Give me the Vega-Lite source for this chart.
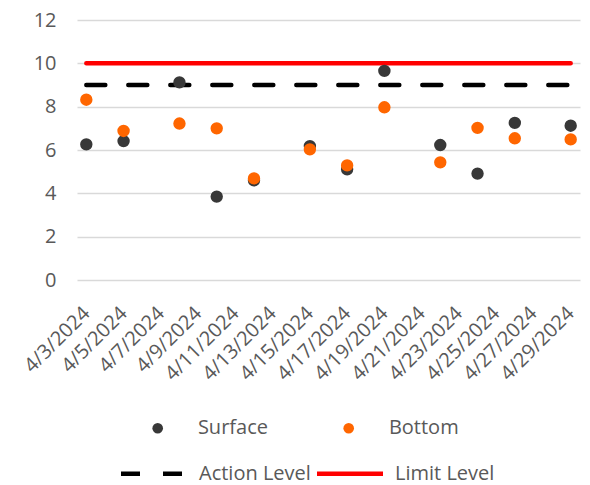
{
  "$schema": "https://vega.github.io/schema/vega-lite/v6.json",
  "width": 503,
  "height": 260,
  "autosize": {"type": "none"},
  "padding": {"left": 77, "top": 20, "right": 10, "bottom": 205},
  "background": "white",
  "config": {
    "view": {"stroke": null},
    "font": "Open Sans",
    "axis": {"labelFont": "Open Sans", "labelFontSize": 20, "labelColor": "#595959", "title": null, "ticks": false, "domain": false},
    "legend": {"labelFont": "Open Sans", "labelFontSize": 20, "labelColor": "#595959", "padding": 0, "title": null}
  },
  "datasets": {
    "points": [
      {"date": "2024-04-03", "value": 6.26, "series": "Surface"},
      {"date": "2024-04-05", "value": 6.41, "series": "Surface"},
      {"date": "2024-04-08", "value": 9.12, "series": "Surface"},
      {"date": "2024-04-10", "value": 3.85, "series": "Surface"},
      {"date": "2024-04-12", "value": 4.6, "series": "Surface"},
      {"date": "2024-04-15", "value": 6.18, "series": "Surface"},
      {"date": "2024-04-17", "value": 5.11, "series": "Surface"},
      {"date": "2024-04-19", "value": 9.65, "series": "Surface"},
      {"date": "2024-04-22", "value": 6.23, "series": "Surface"},
      {"date": "2024-04-24", "value": 4.91, "series": "Surface"},
      {"date": "2024-04-26", "value": 7.25, "series": "Surface"},
      {"date": "2024-04-29", "value": 7.12, "series": "Surface"},
      {"date": "2024-04-03", "value": 8.32, "series": "Bottom"},
      {"date": "2024-04-05", "value": 6.88, "series": "Bottom"},
      {"date": "2024-04-08", "value": 7.22, "series": "Bottom"},
      {"date": "2024-04-10", "value": 7.0, "series": "Bottom"},
      {"date": "2024-04-12", "value": 4.69, "series": "Bottom"},
      {"date": "2024-04-15", "value": 6.03, "series": "Bottom"},
      {"date": "2024-04-17", "value": 5.29, "series": "Bottom"},
      {"date": "2024-04-19", "value": 7.97, "series": "Bottom"},
      {"date": "2024-04-22", "value": 5.43, "series": "Bottom"},
      {"date": "2024-04-24", "value": 7.02, "series": "Bottom"},
      {"date": "2024-04-26", "value": 6.54, "series": "Bottom"},
      {"date": "2024-04-29", "value": 6.49, "series": "Bottom"}
    ],
    "levels": [
      {"date": "2024-04-03", "value": 9, "level": "Action Level"},
      {"date": "2024-04-29", "value": 9, "level": "Action Level"},
      {"date": "2024-04-03", "value": 10, "level": "Limit Level"},
      {"date": "2024-04-29", "value": 10, "level": "Limit Level"}
    ]
  },
  "encoding": {
    "x": {
      "field": "date",
      "type": "temporal",
      "scale": {
        "type": "utc",
        "domain": [
          {"year": 2024, "month": 4, "date": 2, "hours": 12, "utc": true},
          {"year": 2024, "month": 4, "date": 29, "hours": 12, "utc": true}
        ]
      },
      "axis": {
        "labelExpr": "utcFormat(datum.value, '%-m/%-d/%Y')",
        "tickCount": {"interval": "day", "step": 2},
        "labelAngle": -45,
        "labelAlign": "right",
        "labelBaseline": "middle",
        "labelPadding": 30,
        "labelOverlap": false,
        "labelBound": false,
        "labelFlush": false,
        "grid": false
      }
    },
    "y": {
      "field": "value",
      "type": "quantitative",
      "scale": {"domain": [0, 12], "nice": false, "zero": true},
      "axis": {
        "values": [0, 2, 4, 6, 8, 10, 12],
        "grid": true,
        "gridColor": "#d9d9d9",
        "gridWidth": 1.5,
        "labelPadding": 21
      }
    }
  },
  "layer": [
    {
      "data": {"name": "levels"},
      "mark": {"type": "line", "strokeWidth": 4.5, "strokeCap": "round"},
      "encoding": {
        "stroke": {
          "field": "level",
          "type": "nominal",
          "scale": {"domain": ["Action Level", "Limit Level"], "range": ["#000000", "#FF0000"]},
          "legend": {
            "orient": "none",
            "direction": "horizontal",
            "legendX": 41.5,
            "legendY": 418,
            "symbolType": "stroke",
            "symbolSize": 4356,
            "symbolStrokeWidth": 4.5,
            "labelOffset": 9.5,
            "columnPadding": -4
          }
        },
        "strokeDash": {
          "field": "level",
          "type": "nominal",
          "scale": {"domain": ["Action Level", "Limit Level"], "range": [[19, 23], [1, 0]]}
        }
      }
    },
    {
      "data": {"name": "points"},
      "mark": {"type": "circle", "size": 154, "opacity": 1},
      "encoding": {
        "fill": {
          "field": "series",
          "type": "nominal",
          "scale": {"domain": ["Surface", "Bottom"], "range": ["#383838", "#FF6600"]},
          "legend": {
            "orient": "none",
            "direction": "horizontal",
            "legendX": 70.7,
            "legendY": 398.3,
            "symbolType": "circle",
            "symbolSize": 113,
            "labelOffset": 30.2,
            "columnPadding": 70
          }
        }
      }
    }
  ]
}
